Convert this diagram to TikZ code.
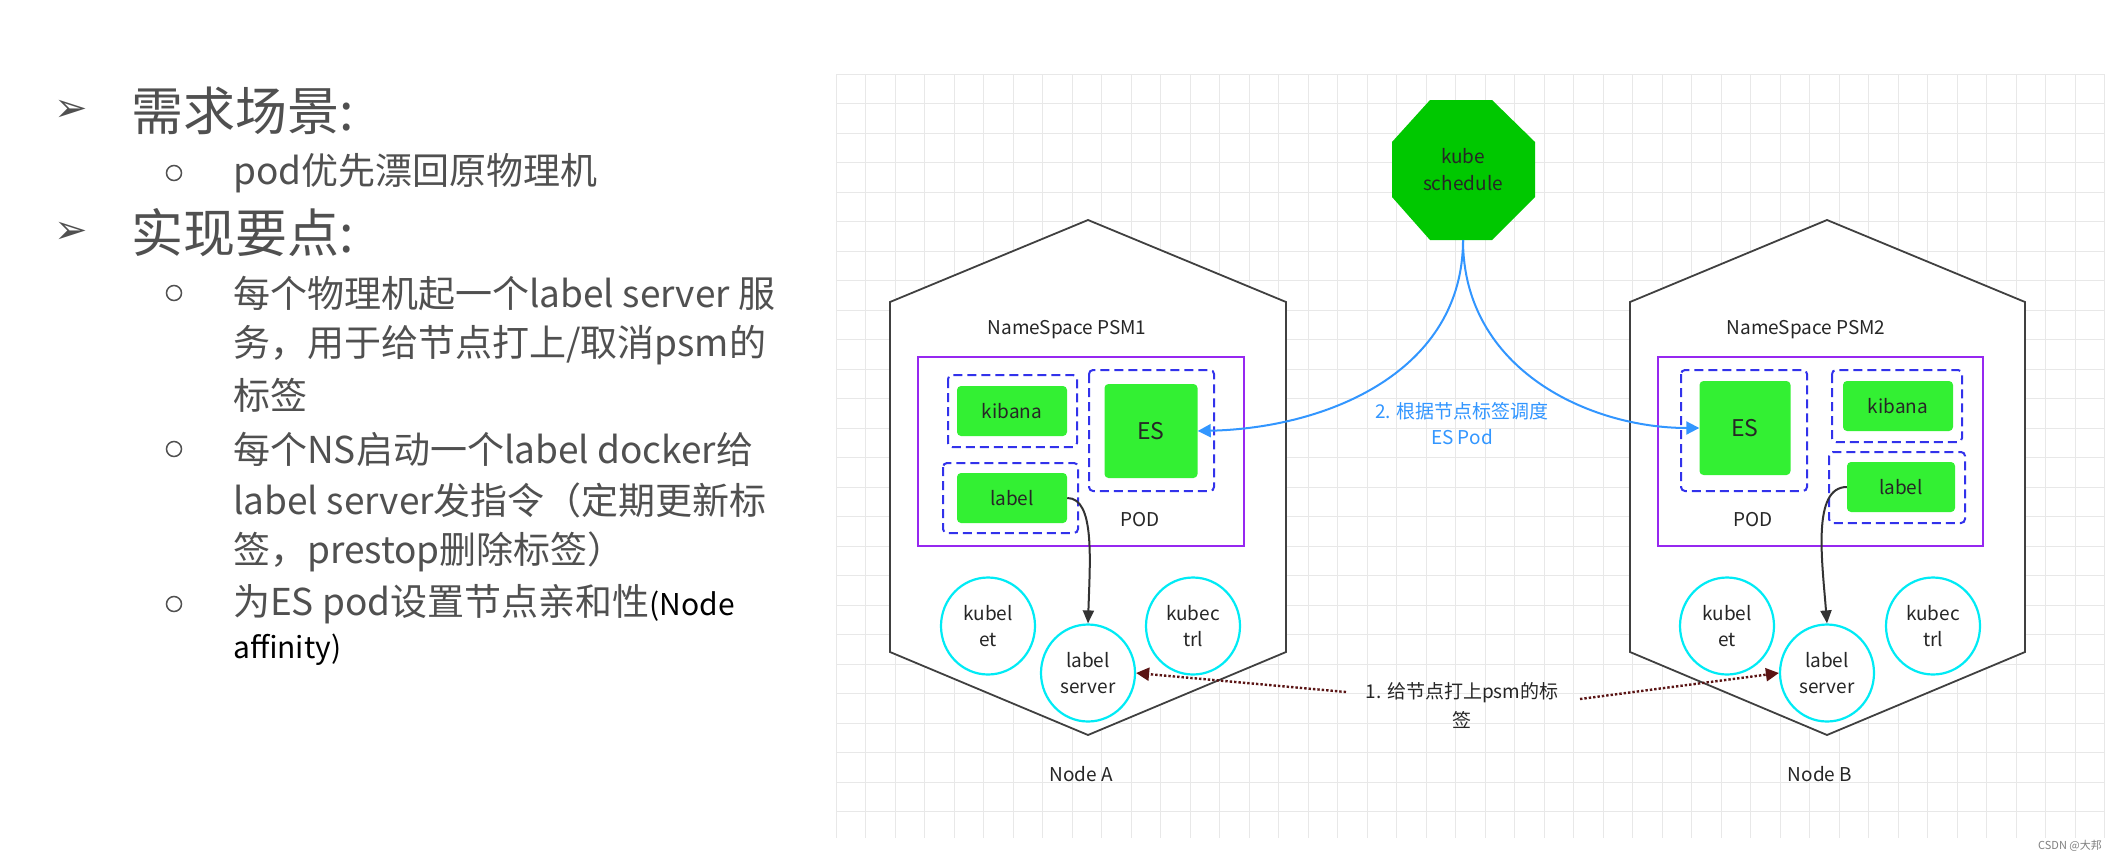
\documentclass[tikz,border=0pt]{standalone}
\usepackage{fontspec}
\setmainfont{Noto Sans CJK SC}
\newfontfamily\symf{DejaVu Sans}
\usetikzlibrary{shapes.geometric,arrows.meta}
\definecolor{gbox}{RGB}{51,240,51}
\definecolor{oct}{RGB}{0,200,0}
\definecolor{purp}{RGB}{150,40,240}
\definecolor{dblue}{RGB}{50,50,235}
\definecolor{cyanc}{RGB}{0,235,245}
\definecolor{sblue}{RGB}{50,150,255}
\definecolor{dred}{RGB}{90,20,20}
\definecolor{txt}{RGB}{80,80,80}
\definecolor{gridc}{RGB}{232,232,232}
\tikzset{
  head/.style={anchor=west,font=\fontsize{52}{56}\selectfont,text=txt,inner sep=0},
  sub/.style={anchor=west,font=\fontsize{37}{40}\selectfont,text=txt,inner sep=0},
  bullet/.style={circle,draw=txt,line width=1.5pt,minimum size=15pt,inner sep=0},
  hexa/.style={draw=black!75,line width=1.8pt,fill=white},
  green/.style={fill=gbox,rounded corners=4pt,font=\fontsize{19}{22}\selectfont,text=black!85},
  dbox/.style={draw=dblue,dashed,dash pattern=on 9pt off 5pt,line width=2pt,rounded corners=4pt},
  pod/.style={draw=purp,line width=2pt},
  circ/.style={ellipse,draw=cyanc,line width=2.2pt,fill=white,minimum width=94pt,minimum height=97pt,align=center,font=\fontsize{19}{26}\selectfont,text=black!85,inner sep=0},
  lab/.style={font=\fontsize{19}{22}\selectfont,text=black!85},
  blab/.style={font=\fontsize{19}{26}\selectfont,text=sblue,align=center},
  sched/.style={draw=sblue,line width=2pt,-{Triangle[length=13pt,width=13pt]}},
  inner/.style={draw=black!80,line width=2pt,-{Triangle[length=13pt,width=11pt]}},
  dot/.style={draw=dred,line width=2.4pt,dotted,-{Triangle[length=13pt,width=13pt]}},
}
\begin{document}
\begin{tikzpicture}[x=1pt,y=-1pt]
\useasboundingbox (0,0) rectangle (2109,857);
\fill[white] (0,0) rectangle (2109,857);
% grid
\foreach \i in {0,...,43} {\draw[gridc,line width=0.8pt] (836+29.5*\i,74) -- (836+29.5*\i,838);}
\foreach \j in {0,...,25} {\draw[gridc,line width=0.8pt] (836,74+29.5*\j) -- (2105,74+29.5*\j);}
% left text
\node[head,font=\symf\fontsize{40}{44}\selectfont] (a1) at (54,111) {➢};
\node[head] (h1) at (131,111) {需求场景:};
\node[bullet] (b1) at (174,173) {};
\node[sub] (s1) at (233,173) {pod优先漂回原物理机};
\node[head,font=\symf\fontsize{40}{44}\selectfont] (a2) at (54,233) {➢};
\node[head] (h2) at (131,233) {实现要点:};
\node[bullet] (b2) at (174,293) {};
\node[sub] (s2) at (233,293) {每个物理机起一个label server 服};
\node[sub] (s3) at (233,345) {务，用于给节点打上/取消psm的};
\node[sub] (s4) at (233,395) {标签};
\node[bullet] (b3) at (174,449) {};
\node[sub] (s5) at (233,449) {每个NS启动一个label docker给};
\node[sub] (s6) at (233,500) {label server发指令（定期更新标};
\node[sub] (s7) at (233,552) {签，prestop删除标签）};
\node[bullet] (b4) at (174,604) {};
\node[sub] (s8) at (233,604) {为ES pod设置节点亲和性\textcolor{black}{\fontsize{30}{32}\selectfont(Node}};
\node[sub,text=black,font=\fontsize{30}{32}\selectfont] (s9) at (233,650) {affinity)};
% hexagons
\draw[hexa] (1088,220) -- (1286,302) -- (1286,652) -- (1088,735) -- (890,652) -- (890,302) -- cycle;
\draw[hexa] (1827,220) -- (2025,302) -- (2025,652) -- (1827,735) -- (1630,652) -- (1630,302) -- cycle;
% octagon
\fill[oct] (1430,100) -- (1492,100) -- (1535,142) -- (1535,197) -- (1492,240) -- (1430,240) -- (1392,197) -- (1392,142) -- cycle;
\node[align=center,font=\fontsize{19}{27}\selectfont,text=black!85] (ks) at (1463,170) {kube\\schedule};
\coordinate (ksb) at (1463,240);
% Node A
\node[lab] (nsA) at (1067,330) {NameSpace PSM1};
\draw[pod] (918,357) rectangle (1244,546);
\draw[dbox] (948,375) rectangle (1077,447);
\draw[dbox] (1089,370) rectangle (1214,491);
\draw[dbox] (943,463) rectangle (1078,533);
\node[green,minimum width=110pt,minimum height=50pt] (kibA) at (1012,411) {kibana};
\node[green,minimum width=93pt,minimum height=94pt,font=\fontsize{23}{26}\selectfont] (esA) at (1151,431) {ES};
\node[green,minimum width=110pt,minimum height=50pt] (lblA) at (1012,498) {label};
\node[lab] (podA) at (1140,520) {POD};
\node[circ] (kletA) at (988,626) {kubel\\et};
\node[circ] (kctlA) at (1193,626) {kubec\\trl};
\node[circ] (lsA) at (1088,673) {label\\server};
\node[lab] (nodeA) at (1081,774) {Node A};
% Node B
\node[lab] (nsB) at (1806,330) {NameSpace PSM2};
\draw[pod] (1658,357) rectangle (1983,546);
\draw[dbox] (1681,370) rectangle (1807,491);
\draw[dbox] (1832,370) rectangle (1962,442);
\draw[dbox] (1829,452) rectangle (1965,523);
\node[green,minimum width=91pt,minimum height=94pt,font=\fontsize{23}{26}\selectfont] (esB) at (1745,428) {ES};
\node[green,minimum width=110pt,minimum height=50pt] (kibB) at (1898,406) {kibana};
\node[green,minimum width=108pt,minimum height=50pt] (lblB) at (1901,487) {label};
\node[lab] (podB) at (1753,520) {POD};
\node[circ] (kletB) at (1727,626) {kubel\\et};
\node[circ] (kctlB) at (1933,626) {kubec\\trl};
\node[circ] (lsB) at (1827,673) {label\\server};
\node[lab] (nodeB) at (1820,774) {Node B};
% scheduling arrows
\node[blab] (t2) at (1462,424) {2. 根据节点标签调度\\ES Pod};
\draw[sched] (ksb) .. controls (1463,370) and (1330,428) .. (esA.east);
\draw[sched] (ksb) .. controls (1463,370) and (1590,428) .. (esB.west);
% label -> label server
\draw[inner] (lblA.east) .. controls (1095,498) and (1090,560) .. (lsA.north);
\draw[inner] (lblB.west) .. controls (1812,487) and (1822,560) .. (lsB.north);
% dotted
\node[lab,align=center,font=\fontsize{19}{29}\selectfont] (t1) at (1462,705) {1. 给节点打上psm的标\\签};
\coordinate (dl) at (1346,692);
\coordinate (dr) at (1580,699);
\draw[dot] (dl) -- (lsA.east);
\draw[dot] (dr) -- (lsB.west);
\node[font=\fontsize{11}{12}\selectfont,text=black!50] (wm) at (2070,846) {CSDN @大邦};
\end{tikzpicture}
\end{document}
